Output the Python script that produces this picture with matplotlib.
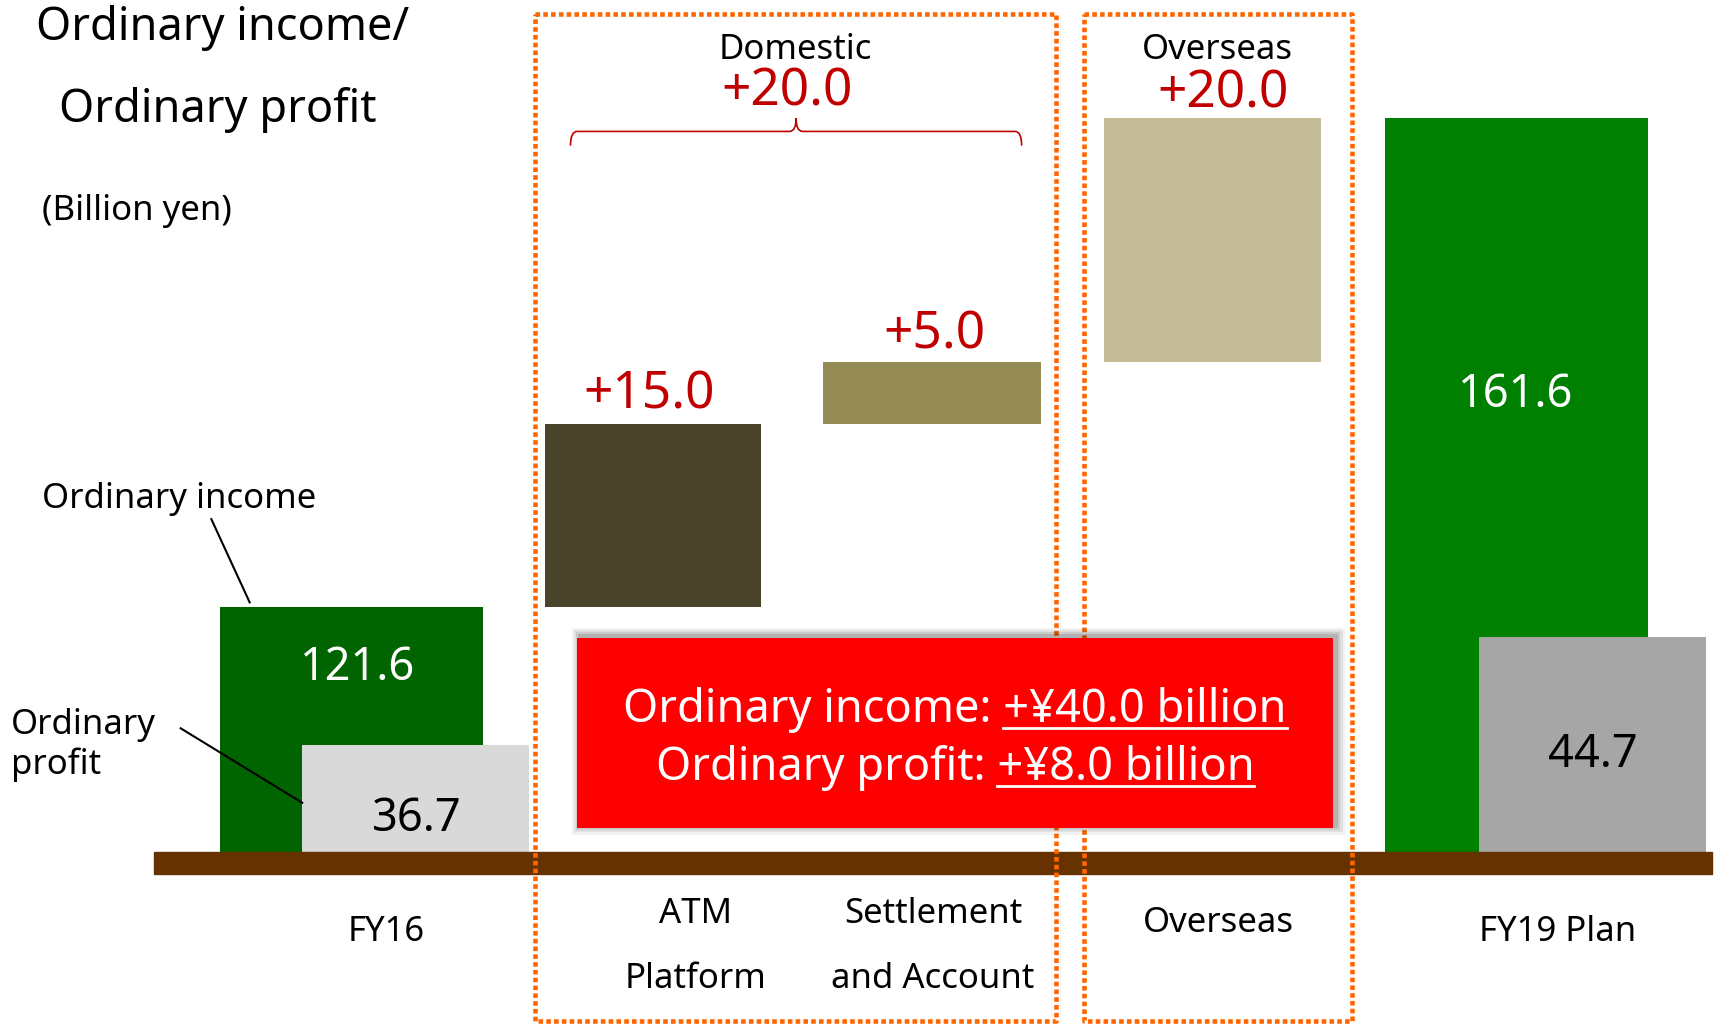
import matplotlib
matplotlib.use("Agg")
import matplotlib.pyplot as plt
from matplotlib.patches import Rectangle
from matplotlib.path import Path
from matplotlib.patches import PathPatch

plt.rcParams['font.family'] = ['Noto Sans', 'DejaVu Sans']

# --- data (billion yen) ---
start_label = "FY16"
end_label = "FY19 Plan"
income_start = 121.6
income_end = 161.6
profit_start = 36.7
profit_end = 44.7
step_labels = ["ATM\nPlatform", "Settlement\nand Account", "Overseas"]
step_values = [15.0, 5.0, 20.0]
domestic_total = 20.0
overseas_total = 20.0
income_gain = 40.0
profit_gain = 8.0

# --- layout (in 1568x935 reference units) ---
W, H = 1568, 935
x_fy16, x_fy16_p = 321, 379.5
x_steps = [596.5, 851.5, 1107]
x_fy19, x_fy19_p = 1385, 1454.5
w_total, w_profit = 240, 207
w_steps = [197, 199, 198]

c_red = "#C00000"
c_orange = "#FF6600"
fs_small = 25
fs_num = 37
fs_val = 32.5
dy = 3  # text nudge down

fig = plt.figure(figsize=(17.17, 10.24), dpi=100)
ax = fig.add_axes([0, 0, 1, 1])
ax.set_xlim(0, W)
ax.set_ylim(87.42, 171.29)          # income scale (axis broken at ~101.5)
ax.axis("off")
axp = ax.twinx()
axp.set_ylim(15.88, 92.21)          # profit scale
axp.axis("off")
# overlay for text / decoration in reference pixel units
ov = fig.add_axes([0, 0, 1, 1], facecolor="none")
ov.set_xlim(0, W)
ov.set_ylim(H, 0)
ov.axis("off")

base_inc = 101.51
base_prof = 28.7

# income bars
ax.bar(x_fy16, income_start - base_inc, bottom=base_inc, width=w_total, color="#006400", zorder=2)
ax.bar(x_fy19, income_end - base_inc, bottom=base_inc, width=w_total, color="#008000", zorder=2)
step_colors = ["#4A452A", "#948A54", "#C4BD97"]
bottoms = []
run = income_start
for v in step_values:
    bottoms.append(run)
    run += v
ax.bar(x_steps, step_values, bottom=bottoms, width=w_steps, color=step_colors, zorder=2)

# profit bars
axp.bar(x_fy16_p, profit_start - base_prof, bottom=base_prof, width=w_profit, color="#D9D9D9", zorder=3)
axp.bar(x_fy19_p, profit_end - base_prof, bottom=base_prof, width=w_profit, color="#A6A6A6", zorder=3)

# baseline
ov.add_patch(Rectangle((141, 778), 1422, 20, color="#663300", zorder=5))

# dotted group boxes
for (x0, x1) in [(489, 964), (990, 1235)]:
    ov.plot([x0, x1, x1, x0, x0], [13, 13, 932, 932, 13], color=c_orange, lw=3.3,
            dashes=(1.0, 0.7), solid_capstyle="butt", dash_capstyle="butt", zorder=6)

# titles
ov.text(33, 23 + dy, "Ordinary income/", fontsize=32.5, va="center", ha="left")
ov.text(54, 97 + dy, "Ordinary profit", fontsize=32.5, va="center", ha="left")
ov.text(38, 190 + dy, "(Billion yen)", fontsize=fs_small, va="center", ha="left")

# group headers
ov.text(726, 43 + dy, "Domestic", fontsize=fs_small, ha="center", va="center")
ov.text(719, 81 + dy, f"+{domestic_total:.1f}", fontsize=fs_num, ha="center", va="center", color=c_red)
ov.text(1112, 43 + dy, "Overseas", fontsize=fs_small, ha="center", va="center")
ov.text(1117, 83 + dy, f"+{overseas_total:.1f}", fontsize=fs_num, ha="center", va="center", color=c_red)

# brace
bx0, bx1, bmid, by, btip, bend = 521, 933, 727, 120, 108, 133
verts = [(bx0, bend), (bx0, by), (bx0 + 6, by), (bmid - 6, by), (bmid, by), (bmid, btip),
         (bmid, by), (bmid + 6, by), (bx1 - 6, by), (bx1, by), (bx1, bend)]
codes = [Path.MOVETO, Path.CURVE3, Path.CURVE3, Path.LINETO, Path.CURVE3, Path.CURVE3,
         Path.CURVE3, Path.CURVE3, Path.LINETO, Path.CURVE3, Path.CURVE3]
ov.add_patch(PathPatch(Path(verts, codes), fill=False, edgecolor=c_red, lw=1.2))

# step labels
step_label_pos = [(593, 358), (853, 303)]
for (tx, ty), v in zip(step_label_pos, step_values[:2]):
    ov.text(tx, ty + dy, f"+{v:.1f}", fontsize=fs_num, ha="center", va="center", color=c_red)

# bar value labels
ov.text(327, 607 + dy, f"{income_start:.1f}", fontsize=fs_val, ha="center", va="center", color="white", zorder=7)
ov.text(381, 745 + dy, f"{profit_start:.1f}", fontsize=fs_val, ha="center", va="center", color="black", zorder=7)
ov.text(1384, 358 + dy, f"{income_end:.1f}", fontsize=fs_val, ha="center", va="center", color="white", zorder=7)
ov.text(1455, 686 + dy, f"{profit_end:.1f}", fontsize=fs_val, ha="center", va="center", color="black", zorder=7)

# legend-style callouts
ov.text(38, 453 + dy, "Ordinary income", fontsize=fs_small, ha="left", va="center")
ov.plot([193, 228], [474, 550], color="black", lw=1.5)
ov.text(10, 677 + dy, "Ordinary\nprofit", fontsize=fs_small, ha="left", va="center", linespacing=1.2)
ov.plot([165, 276], [665, 733], color="black", lw=1.5, zorder=8)

# x labels
ov.text(353, 848 + dy, start_label, fontsize=fs_small, ha="center", va="center")
ov.text(635, 861 + dy, step_labels[0], fontsize=fs_small, ha="center", va="center", linespacing=2.2)
ov.text(852, 861 + dy, step_labels[1], fontsize=fs_small, ha="center", va="center", linespacing=2.2)
ov.text(1113, 840 + dy, step_labels[2], fontsize=fs_small, ha="center", va="center")
ov.text(1422, 848 + dy, end_label, fontsize=fs_small, ha="center", va="center")

# summary box with soft shadow
for i, a in enumerate([0.05, 0.07, 0.09, 0.12]):
    g = 8 - 2 * i
    ov.add_patch(Rectangle((527 - g + 3, 583 - g - 2), 690 + 2 * g, 173 + 2 * g,
                           color="black", alpha=a, lw=0, zorder=8))
ov.add_patch(Rectangle((527, 583), 690, 173, color="#FF0000", lw=0, zorder=9))

lines = [("Ordinary income: ", f"+¥{income_gain:.1f} billion", 645 + dy),
         ("Ordinary profit: ", f"+¥{profit_gain:.1f} billion", 698 + dy)]
fig.canvas.draw()
rend = fig.canvas.get_renderer()
inv = ov.transData.inverted()
for pre, suf, ty in lines:
    t = ov.text(872, ty, pre + suf, fontsize=fs_val, ha="center", va="center", color="white", zorder=10)
    bb = t.get_window_extent(rend)
    ts = ov.text(0, 0, suf, fontsize=fs_val, color="white")
    sw = ts.get_window_extent(rend).width
    ts.remove()
    (ux0, uy), = inv.transform([(bb.x1 - sw, bb.y0 + 5)])
    (ux1, _), = inv.transform([(bb.x1, bb.y0)])
    ov.plot([ux0, ux1], [uy, uy], color="white", lw=2, zorder=10)

fig.savefig("out.png", dpi=100)
